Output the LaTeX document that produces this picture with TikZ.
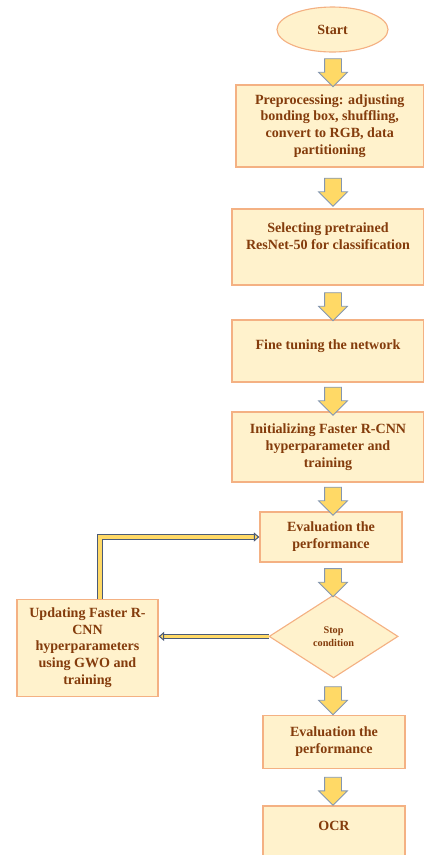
\documentclass[tikz,border=0pt]{standalone}
\usepackage{fontspec}
\setmainfont{Liberation Serif}
\usetikzlibrary{shapes.geometric,shapes.arrows,arrows.meta}

\definecolor{boxfill}{HTML}{FFF2CC}
\definecolor{boxline}{HTML}{F4B183}
\definecolor{boxtext}{HTML}{843C0C}
\definecolor{arrowfill}{HTML}{FFD966}
\definecolor{arrowline}{HTML}{8497B0}
\definecolor{loopcolor}{HTML}{4A5A78}

\tikzset{
  stepbox/.style={draw=boxline, fill=boxfill, line width=0.8pt, text=boxtext,
    font=\bfseries\fontsize{10}{12}\selectfont, align=center, inner sep=2pt},
  flowarrow/.style={single arrow, draw=arrowline, fill=arrowfill, line width=0.6pt,
    minimum height=0.7cm, single arrow head extend=0.15cm,
    inner xsep=0pt, inner ysep=0.2cm, rotate=-90},
  loopline/.style={draw=loopcolor, line width=0.75pt, double=arrowfill, double distance=2.4pt,
    -{Triangle[length=4pt, width=6.5pt, fill=arrowfill]}}
}
% block arrow sitting on the common axis between two steps
\newcommand{\flowstep}[2]{\path (#1.south -| axis) -- (#2.north -| axis) node[flowarrow, midway] {};}

\begin{document}
\begin{tikzpicture}
\useasboundingbox (0,0) rectangle (10.6,-21.375);
\coordinate (axis) at (8.325,0);
\coordinate (loopx) at (2.5,0);

% main column
\node[stepbox, ellipse, minimum width=2.775cm, minimum height=1.125cm] (start) at (8.3125,-0.7375) {Start};
\node[stepbox, minimum width=4.69cm, minimum height=2.05cm] (pre) at (8.244,-3.15)
  {Preprocessing: adjusting\\ bonding box, shuffling,\\ convert to RGB, data\\ partitioning};
\node[stepbox, minimum width=4.8cm, minimum height=1.9cm] (sel) at (8.2,-6.175)
  {Selecting pretrained\\ ResNet-50 for classification\\[0.12cm]};
\node[stepbox, minimum width=4.8cm, minimum height=1.55cm, text depth=0.31cm] (fine) at (8.2,-8.775)
  {Fine tuning the network};
\node[stepbox, minimum width=4.8cm, minimum height=1.75cm] (init) at (8.2,-11.175)
  {Initializing Faster R-CNN\\ hyperparameter and\\ training};
\node[stepbox, minimum width=3.55cm, minimum height=1.25cm] (eval1) at (8.275,-13.425)
  {Evaluation the\\ performance};
\node[stepbox, diamond, minimum width=3.225cm, minimum height=2.075cm, inner sep=0pt,
  font=\bfseries\fontsize{7.3}{9}\selectfont] (stop) at (8.34,-15.91) {Stop\\ condition};
\node[stepbox, minimum width=3.55cm, minimum height=1.325cm] (eval2) at (8.35,-18.54)
  {Evaluation the\\ performance};
\node[stepbox, minimum width=3.55cm, minimum height=1.3cm, text depth=0.31cm] (ocr) at (8.35,-20.8)
  {OCR};

% update step on the left
\node[stepbox, minimum width=3.525cm, minimum height=2.425cm] (upd) at (2.1875,-16.19)
  {Updating Faster R-\\ CNN\\ hyperparameters\\ using GWO and\\ training};

\flowstep{start}{pre}
\flowstep{pre}{sel}
\flowstep{sel}{fine}
\flowstep{fine}{init}
\flowstep{init}{eval1}
\flowstep{eval1}{stop}
\flowstep{stop}{eval2}
\flowstep{eval2}{ocr}

% feedback loop
\draw[loopline] (stop.west) -- (stop.west -| upd.east);
\draw[loopline] (upd.north -| loopx) |- (eval1.west);
\end{tikzpicture}
\end{document}
